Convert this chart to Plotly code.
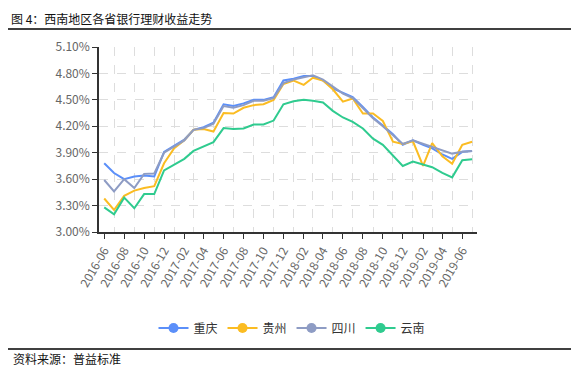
import plotly.graph_objects as go

# ---- data ----
months = [
    "2016-06", "2016-07", "2016-08", "2016-09", "2016-10", "2016-11", "2016-12",
    "2017-01", "2017-02", "2017-03", "2017-04", "2017-05", "2017-06", "2017-07",
    "2017-08", "2017-09", "2017-10", "2017-11", "2017-12", "2018-01", "2018-02",
    "2018-03", "2018-04", "2018-05", "2018-06", "2018-07", "2018-08", "2018-09",
    "2018-10", "2018-11", "2018-12", "2019-01", "2019-02", "2019-03", "2019-04",
    "2019-05", "2019-06", "2019-07",
]
chongqing = [3.78, 3.67, 3.60, 3.63, 3.64, 3.63, 3.91, 3.98, 4.05, 4.16, 4.19, 4.24,
             4.45, 4.43, 4.46, 4.50, 4.50, 4.53, 4.72, 4.74, 4.77, 4.77, 4.72, 4.63,
             4.58, 4.53, 4.42, 4.30, 4.21, 4.11, 3.99, 4.04, 3.99, 3.95, 3.88, 3.83,
             3.91, 3.92]
guizhou = [3.38, 3.25, 3.41, 3.47, 3.50, 3.52, 3.78, 3.95, 4.04, 4.16, 4.17, 4.14,
           4.35, 4.345, 4.41, 4.44, 4.45, 4.50, 4.68, 4.72, 4.67, 4.75, 4.72, 4.62,
           4.48, 4.515, 4.345, 4.345, 4.26, 4.025, 4.00, 4.03, 3.75, 4.01, 3.86, 3.775,
           3.99, 4.025]
sichuan = [3.59, 3.46, 3.60, 3.50, 3.66, 3.665, 3.90, 3.97, 4.04, 4.16, 4.18, 4.23,
           4.43, 4.41, 4.44, 4.49, 4.49, 4.52, 4.69, 4.73, 4.76, 4.78, 4.73, 4.65,
           4.57, 4.52, 4.40, 4.29, 4.20, 4.10, 4.00, 4.04, 4.00, 3.96, 3.92, 3.89,
           3.91, 3.92]
yunnan = [3.28, 3.20, 3.39, 3.27, 3.43, 3.43, 3.70, 3.77, 3.83, 3.92, 3.97, 4.02,
          4.18, 4.17, 4.175, 4.22, 4.22, 4.265, 4.45, 4.485, 4.50, 4.49, 4.47, 4.375,
          4.30, 4.25, 4.175, 4.06, 3.99, 3.87, 3.75, 3.80, 3.77, 3.735, 3.67, 3.62,
          3.815, 3.825]

series_names = ["重庆", "贵州", "四川", "云南"]
series_values = [chongqing, guizhou, sichuan, yunnan]
colors = ["#5B8FF9", "#FBBC22", "#8E9CC4", "#2FCB8F"]

y_ticks = [3.00, 3.30, 3.60, 3.90, 4.20, 4.50, 4.80, 5.10]
x_tick_labels = months[0::2]
x_grid_months = months[1::2]

title_text = "图 4：西南地区各省银行理财收益走势"
source_text = "资料来源：普益标准"

# ---- layout geometry (page pixels; the figure div sits at an 8px body offset) ----
PAGE_W, PAGE_H = 579, 375
OX, OY = 8, 8
W, H = PAGE_W - OX, PAGE_H - OY
PL, PR, PT, PB = 99, 477, 47, 232   # plot area edges on the page


def px_x(px):
    return (px - PL) / (PR - PL)


def px_y(py):
    return (PB - py) / (PB - PT)


FONT = "Noto Sans CJK SC, Noto Sans, sans-serif"

fig = go.Figure()
for name, vals, col in zip(series_names, series_values, colors):
    fig.add_trace(go.Scatter(
        x=[m + "-01" for m in months], y=vals, name=name,
        mode="lines", line=dict(color=col, width=2),
        showlegend=False,
    ))
# legend-only traces to show line+marker symbol
for name, col in zip(series_names, colors):
    fig.add_trace(go.Scatter(
        x=[None], y=[None], name=name, mode="lines+markers",
        line=dict(color=col, width=2), marker=dict(size=10, color=col),
    ))

fig.update_layout(
    width=W, height=H,
    margin=dict(l=PL - OX, r=OX + W - PR, t=PT - OY, b=OY + H - PB, autoexpand=False),
    paper_bgcolor="white", plot_bgcolor="white",
    font=dict(family=FONT, size=12, color="#666"),
    showlegend=True,
    legend=dict(
        orientation="h", x=px_x(292), xanchor="center", y=px_y(328), yanchor="middle",
        font=dict(family=FONT, size=12, color="#333"),
        itemwidth=30, tracegroupgap=0, bgcolor="rgba(0,0,0,0)",
    ),
    xaxis=dict(
        type="date",
        range=["2016-05-16", "2019-07-16"],
        tickvals=[m + "-01" for m in x_tick_labels],
        ticktext=x_tick_labels,
        tickangle=-60,
        showgrid=False,
        ticks="outside", ticklen=5, tickcolor="#333",
        showline=True, linecolor="#333", linewidth=1.5,
        tickfont=dict(family=FONT, size=12, color="#666"),
        minor=dict(
            tickvals=[m + "-01" for m in x_grid_months],
            showgrid=True, gridcolor="#DDDDDD", griddash="dash", gridwidth=1,
            ticks="",
        ),
        zeroline=False,
    ),
    yaxis=dict(
        range=[3.0, 5.1],
        tickvals=y_ticks,
        ticktext=[f"{v:.2f}%" for v in y_ticks],
        showgrid=True, gridcolor="#DDDDDD", griddash="dash", gridwidth=1,
        ticks="outside", ticklen=5, tickcolor="#333",
        showline=True, linecolor="#333", linewidth=1.5,
        tickfont=dict(family=FONT, size=12, color="#666"),
        zeroline=False,
    ),
    shapes=[
        dict(type="line", xref="paper", yref="paper",
             x0=px_x(8), x1=px_x(575), y0=px_y(29), y1=px_y(29),
             line=dict(color="black", width=1.5)),
        dict(type="line", xref="paper", yref="paper",
             x0=px_x(8), x1=px_x(575), y0=px_y(349), y1=px_y(349),
             line=dict(color="black", width=1.5)),
    ],
    annotations=[
        dict(text=title_text, xref="paper", yref="paper",
             x=px_x(9), y=px_y(8.5), xanchor="left", yanchor="top",
             showarrow=False, font=dict(family=FONT, size=12, color="#111")),
        dict(text=source_text, xref="paper", yref="paper",
             x=px_x(11), y=px_y(358), xanchor="left", yanchor="middle",
             showarrow=False, font=dict(family=FONT, size=12, color="#111")),
    ],
)

fig.write_html("out.html")
